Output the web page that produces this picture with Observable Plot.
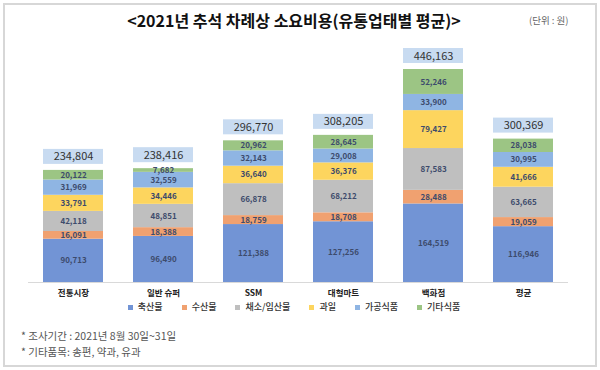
<!DOCTYPE html>
<html>
<head>
<meta charset="utf-8">
<script src="https://cdn.jsdelivr.net/npm/d3@7"></script>
<script src="https://cdn.jsdelivr.net/npm/@observablehq/plot@0.6"></script>
<style>
  html, body { margin: 0; padding: 0; background: #fff; }
  body { width: 600px; height: 370px; position: relative; overflow: hidden;
         font-family: "Noto Sans CJK KR", "Noto Sans", sans-serif; }
  #frame { position: absolute; left: 3px; top: 3px; width: 594px; height: 364px;
           box-sizing: border-box; border: 2px solid #d7d7d7; }
  #title { position: absolute; left: 0; width: 588px; top: 9px; text-align: center;
           font-size: 16px; font-weight: bold; color: #111; line-height: 22px; }
  #unit { position: absolute; left: 529px; top: 13px; font-size: 9.5px; color: #666; line-height: 14px; }
  #chart { position: absolute; left: 0; top: 40px; }
  #legend { position: absolute; left: 0; width: 588px; top: 300px; display: flex; justify-content: center;
            gap: 19px; font-size: 9px; font-weight: 500; color: #333; line-height: 14px; }
  #legend .item { display: flex; align-items: center; gap: 5px; }
  #legend .sw { width: 5px; height: 5px; display: inline-block; }
  #notes { position: absolute; left: 21px; top: 328px; font-size: 10.5px; color: #555; line-height: 16px; }
</style>
</head>
<body>
<div id="frame"></div>
<div id="title"></div>
<div id="unit"></div>
<div id="chart"></div>
<div id="legend"></div>
<div id="notes"></div>
<script>
const titleText = "<2021년 추석 차례상 소요비용(유통업태별 평균)>";
const unitText = "(단위 : 원)";
const categories = ["전통시장", "일반 슈퍼", "SSM", "대형마트", "백화점", "평균"];
const seriesNames = ["축산물", "수산물", "채소/임산물", "과일", "가공식품", "기타식품"];
const seriesColors = ["#7294d5", "#f0a170", "#bfbfbf", "#fdd55e", "#8fb5e3", "#9cc584"];
const meat      = [90713, 96490, 121388, 127256, 164519, 116946];
const seafood   = [16091, 18388, 18759, 18708, 28488, 19059];
const vegetable = [42118, 48851, 66878, 68212, 87583, 63665];
const fruit     = [33791, 34446, 36640, 36376, 79427, 41666];
const processed = [31969, 32559, 32143, 29008, 33900, 30995];
const other     = [20122, 7682, 20962, 28645, 52246, 28038];
const totals    = [234804, 238416, 296770, 308205, 446163, 300369];
const notes = ["* 조사기간 : 2021년 8월 30일~31일", "* 기타품목: 송편, 약과, 유과"];

const seriesValues = [meat, seafood, vegetable, fruit, processed, other];
const rows = [];
seriesNames.forEach((s, si) => categories.forEach((c, ci) => rows.push({cat: c, series: s, value: seriesValues[si][ci]})));
const totalRows = categories.map((c, i) => ({cat: c, total: totals[i]}));
const fmt = d3.format(",");

document.getElementById("title").textContent = titleText;
document.getElementById("unit").textContent = unitText;
document.getElementById("notes").innerHTML = notes.map(n => `<div>${n}</div>`).join("");
document.getElementById("legend").innerHTML = seriesNames.map((s, i) =>
  `<span class="item"><span class="sw" style="background:${seriesColors[i]}"></span>${s}</span>`).join("");

const chart = Plot.plot({
  width: 600,
  height: 262,
  marginLeft: 28,
  marginRight: 32,
  marginTop: 29,
  marginBottom: 20,
  style: {fontFamily: "'Noto Sans CJK KR', 'Noto Sans', sans-serif", background: "transparent"},
  x: {domain: categories, paddingInner: 1/3, paddingOuter: 1/6, label: null},
  y: {domain: [0, d3.max(totals)], axis: null},
  color: {domain: seriesNames, range: seriesColors},
  marks: [
    Plot.axisX({tickSize: 0, tickPadding: 7, fontSize: 8.5, fontWeight: "bold", fill: "#222", label: null}),
    Plot.barY(rows, {x: "cat", y: "value", fill: "series", order: seriesNames}),
    Plot.text(rows, Plot.stackY({x: "cat", y: "value", z: "series", order: seriesNames,
      text: d => fmt(d.value), fill: "#3d4b6c", fontWeight: "bold", fontSize: 8})),
    Plot.barY(totalRows, {x: "cat", y1: "total", y2: "total", fill: "#c8dbf1", insetTop: -21, insetBottom: 6}),
    Plot.text(totalRows, {x: "cat", y: "total", text: d => fmt(d.total), dy: -13.5, fontSize: 11, fill: "#333"}),
    Plot.ruleY([0], {stroke: "#d9d9d9", strokeWidth: 1})
  ]
});
document.getElementById("chart").appendChild(chart);
</script>
</body>
</html>
